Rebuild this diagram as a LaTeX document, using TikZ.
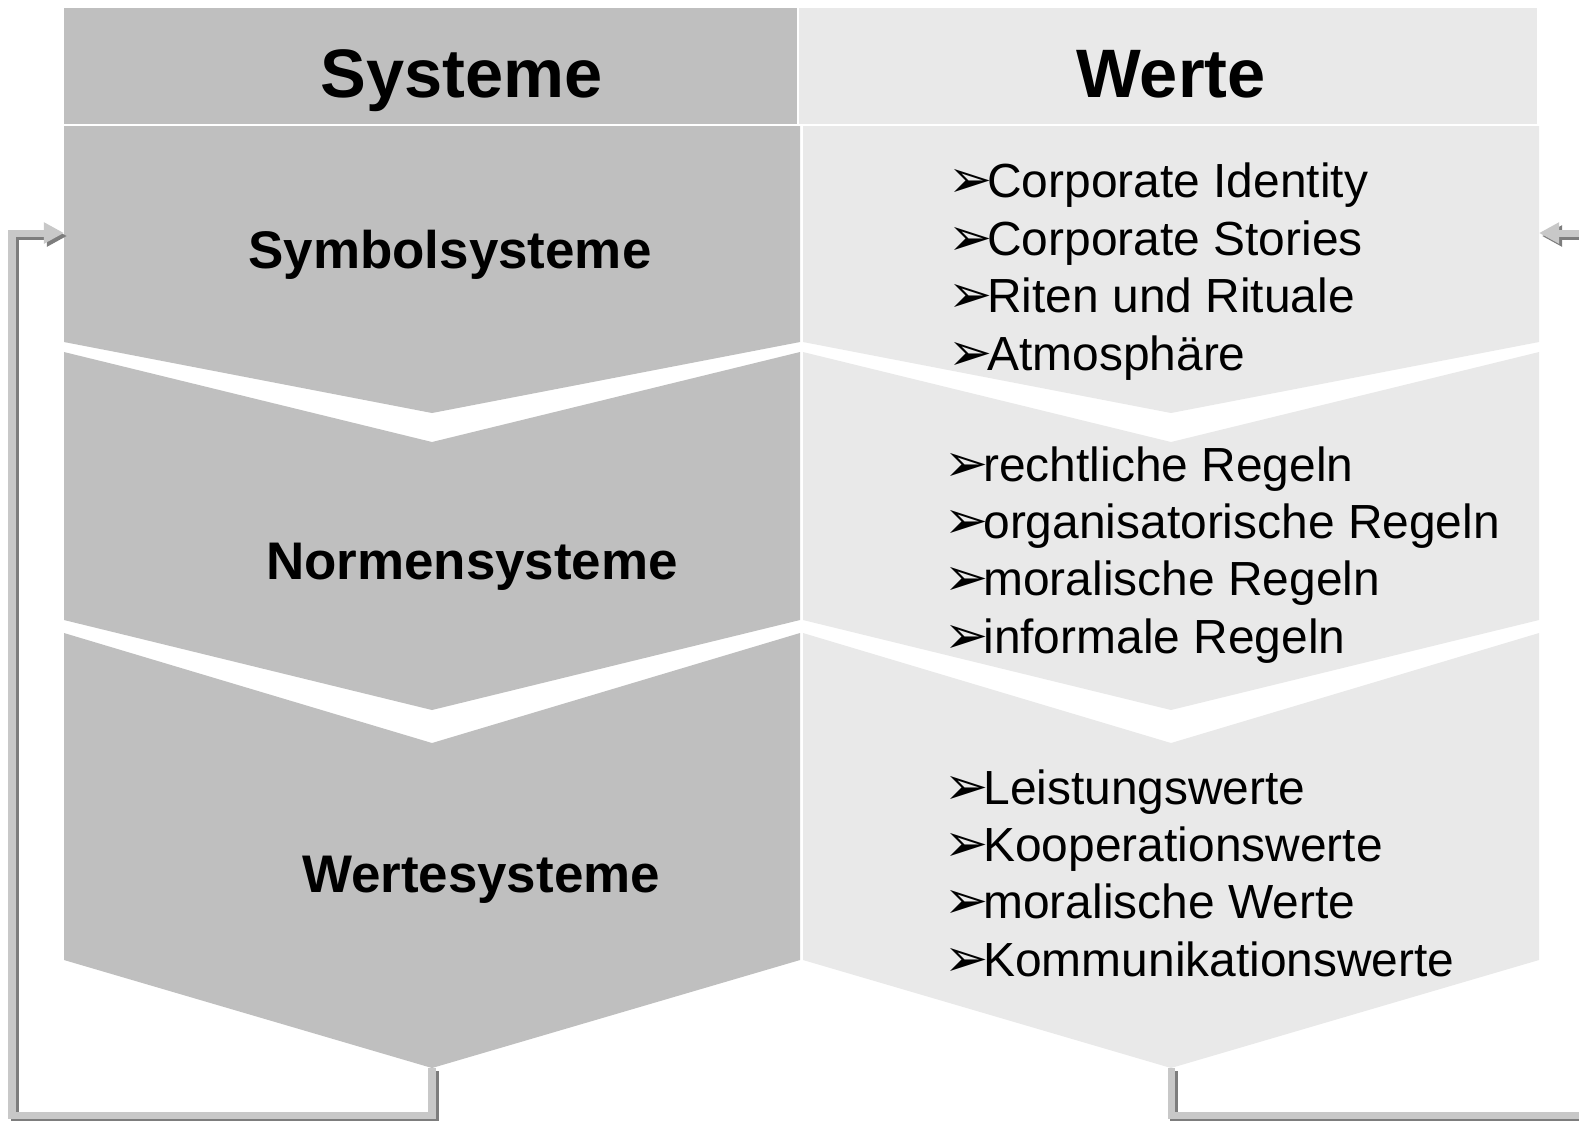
\documentclass[tikz,border=0pt]{standalone}
\usepackage{fontspec}
\setmainfont{Liberation Sans}
\newfontfamily\dejavu{DejaVu Sans}
\usepackage{tikz}
\usetikzlibrary{arrows.meta}
\definecolor{sysgray}{RGB}{191, 191, 191}
\definecolor{valgray}{RGB}{233, 233, 233}
\definecolor{lightline}{RGB}{200, 200, 200}
\definecolor{darkline}{RGB}{125, 125, 125}
\newcommand\pointer{\makebox[11pt][l]{\dejavu\fontsize{15pt}{16pt}\selectfont\char"27A2}}

\tikzset{
  head/.style={font=\fontsize{19.5pt}{23pt}\selectfont\bfseries, anchor=base, inner sep=0pt},
  systitle/.style={font=\fontsize{15.05pt}{18pt}\selectfont\bfseries, anchor=base, inner sep=0pt},
  item/.style={font=\fontsize{13.62pt}{16.3pt}\selectfont, anchor=base west, inner sep=0pt},
  feed/.style={line width=2pt, -{Triangle[width=5.7pt, length=5.7pt]}}
}

\begin{document}
\begin{tikzpicture}[x=0.01cm, y=-0.01cm]

  \useasboundingbox (0, 0) rectangle (1579, 1120);

  % header
  \fill[sysgray] (64, 8) rectangle (797, 124);
  \fill[valgray] (799, 8) rectangle (1537, 124);
  \node[head] (systeme) at (462, 97) {Systeme};
  \node[head] (werte) at (1171, 97) {Werte};

  % chevrons
  \foreach \ta/\tb/\ba/\bb in {126/126/342/413, 352/442/620/710, 633/743/960/1068} {
    \fill[sysgray] (64, \ta) -- (432, \tb) -- (800, \ta) -- (800, \ba)
      -- (432, \bb) -- (64, \ba) -- cycle;
    \fill[valgray] (803, \ta) -- (1171, \tb) -- (1539, \ta) -- (1539, \ba)
      -- (1171, \bb) -- (803, \ba) -- cycle;
  }

  \node[systitle] (symbol) at (450, 268) {Symbolsysteme};
  \node[systitle] (normen) at (472, 579) {Normensysteme};
  \node[systitle] (wertesys) at (481, 892) {Wertesysteme};

  \foreach \txt [count=\i] in {Corporate Identity, Corporate Stories, Riten und Rituale, Atmosphäre}
    \node[item] (sym-\i) at (948, 140.4 + 57.4 * \i) {\pointer\txt};
  \foreach \txt [count=\i] in {rechtliche Regeln, organisatorische Regeln, moralische Regeln, informale Regeln}
    \node[item] (norm-\i) at (944, 423.6 + 57.4 * \i) {\pointer\txt};
  \foreach \txt [count=\i] in {Leistungswerte, Kooperationswerte, moralische Werte, Kommunikationswerte}
    \node[item] (wert-\i) at (944, 746.6 + 57.4 * \i) {\pointer\txt};

  % feedback loops
  \coordinate (sys-tip) at (432, 1068);
  \coordinate (val-tip) at (1171, 1068);
  \coordinate (sys-in) at (64, 233);
  \coordinate (val-in) at (1539, 233);

  \draw[feed, darkline, transform canvas={xshift=0.85pt, yshift=-0.85pt}]
    (sys-tip) |- (12, 1115) |- (sys-in);
  \draw[feed, lightline] (sys-tip) |- (12, 1115) |- (sys-in);
  \draw[feed, darkline, transform canvas={xshift=0.85pt, yshift=-0.85pt}]
    (val-tip) |- (1600, 1115) |- (val-in);
  \draw[feed, lightline] (val-tip) |- (1600, 1115) |- (val-in);

\end{tikzpicture}
\end{document}
